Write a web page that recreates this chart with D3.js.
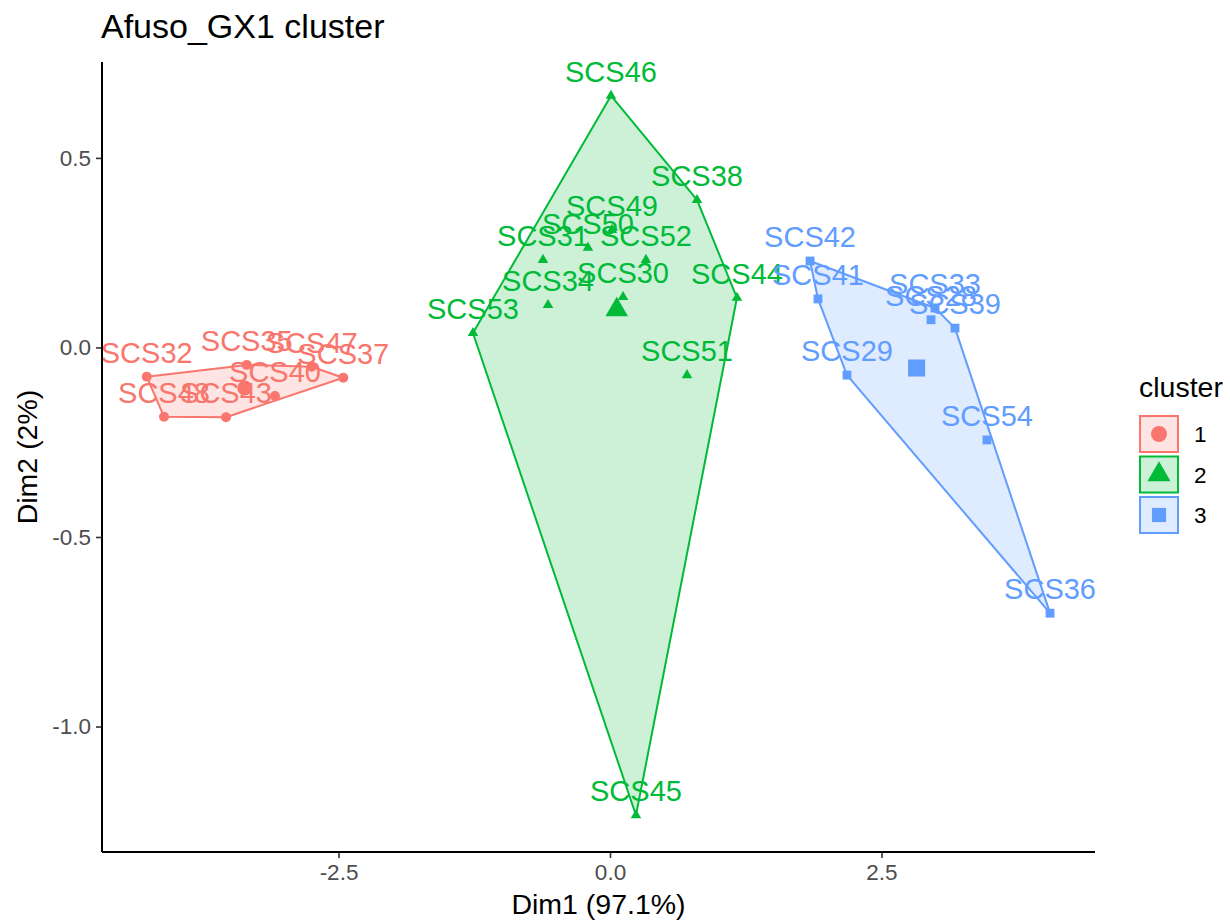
<!DOCTYPE html>
<html>
<head>
<meta charset="utf-8">
<script src="https://cdn.jsdelivr.net/npm/d3@7"></script>
<style>
  html, body { margin: 0; padding: 0; background: #ffffff; }
  svg text { font-family: "Liberation Sans", Arial, Helvetica, sans-serif; }
</style>
</head>
<body>
<svg id="chart" width="1230" height="924"></svg>
<script>
// ---- data ----
const clusterIds = ["1", "2", "3"];
const cluster1Names = ["SCS32", "SCS48", "SCS43", "SCS37", "SCS40", "SCS35", "SCS47"];
const cluster1Dim1 = [-4.266, -4.107, -3.536, -2.456, -3.085, -3.345, -2.747];
const cluster1Dim2 = [-0.077, -0.183, -0.184, -0.080, -0.128, -0.046, -0.051];

const cluster2Names = ["SCS46", "SCS38", "SCS49", "SCS50", "SCS31", "SCS52", "SCS34", "SCS30", "SCS53", "SCS44", "SCS51", "SCS45"];
const cluster2Dim1 = [0.009, 0.801, 0.018, -0.203, -0.617, 0.331, -0.571, 0.120, -1.262, 1.169, 0.709, 0.239];
const cluster2Dim2 = [0.664, 0.389, 0.310, 0.263, 0.231, 0.231, 0.112, 0.133, 0.038, 0.131, -0.073, -1.234];

const cluster3Names = ["SCS42", "SCS41", "SCS29", "SCS33", "SCS28", "SCS39", "SCS54", "SCS36"];
const cluster3Dim1 = [1.842, 1.915, 2.182, 2.993, 2.956, 3.177, 3.471, 4.052];
const cluster3Dim2 = [0.228, 0.128, -0.073, 0.104, 0.073, 0.051, -0.244, -0.701];

const xTicks = [-2.5, 0.0, 2.5];
const yTicks = [0.5, 0.0, -0.5, -1.0];
const xDomain = [-4.678, 4.466];
const yDomain = [-1.331, 0.753];
const titleText = "Afuso_GX1 cluster";
const xTitle = "Dim1 (97.1%)";
const yTitle = "Dim2 (2%)";
const legendTitle = "cluster";

// ---- styling ----
const colors = { "1": "#F8766D", "2": "#00BA38", "3": "#619CFF" };
const shapes = { "1": d3.symbolCircle, "2": d3.symbolTriangle, "3": d3.symbolSquare };
const smallSize = { "1": 78, "2": 48, "3": 78 };
const bigSize = { "1": 180, "2": 220, "3": 290 };

const clusters = [
  { id: "1", names: cluster1Names, x: cluster1Dim1, y: cluster1Dim2 },
  { id: "2", names: cluster2Names, x: cluster2Dim1, y: cluster2Dim2 },
  { id: "3", names: cluster3Names, x: cluster3Dim1, y: cluster3Dim2 }
];

const svg = d3.select("#chart");
const panel = { left: 102, right: 1095, top: 62, bottom: 852 };

const x = d3.scaleLinear().domain(xDomain).range([panel.left, panel.right]);
const y = d3.scaleLinear().domain(yDomain).range([panel.bottom, panel.top]);

// title
svg.append("text").attr("x", 101).attr("y", 38)
  .attr("font-size", 34).attr("fill", "#000").text(titleText);

// hulls
const gHull = svg.append("g");
const gPts = svg.append("g");
const gLbl = svg.append("g");

clusters.forEach(c => {
  const pts = c.names.map((n, i) => [x(c.x[i]), y(c.y[i])]);
  const hull = d3.polygonHull(pts);
  gHull.append("path")
    .attr("d", "M" + hull.map(p => p.join(",")).join("L") + "Z")
    .attr("fill", colors[c.id]).attr("fill-opacity", 0.2)
    .attr("stroke", colors[c.id]).attr("stroke-width", 2)
    .attr("stroke-linejoin", "round");
});

clusters.forEach(c => {
  const sym = d3.symbol().type(shapes[c.id]).size(smallSize[c.id]);
  c.names.forEach((n, i) => {
    gPts.append("path").attr("d", sym())
      .attr("transform", `translate(${x(c.x[i])},${y(c.y[i])})`)
      .attr("fill", colors[c.id]);
    gLbl.append("text")
      .attr("x", x(c.x[i])).attr("y", y(c.y[i]) - 14)
      .attr("text-anchor", "middle").attr("font-size", 29)
      .attr("fill", colors[c.id]).text(n);
  });
  // cluster centre
  const cx = d3.mean(c.x), cy = d3.mean(c.y);
  const big = d3.symbol().type(shapes[c.id]).size(bigSize[c.id]);
  gPts.append("path").attr("d", big())
    .attr("transform", `translate(${x(cx)},${y(cy)})`)
    .attr("fill", colors[c.id]);
});

// axes
const xAxis = d3.axisBottom(x).tickValues(xTicks).tickFormat(d3.format(".1f")).tickSize(6).tickPadding(6);
const yAxis = d3.axisLeft(y).tickValues(yTicks).tickFormat(d3.format(".1f")).tickSize(6).tickPadding(5);

const gx = svg.append("g").attr("transform", `translate(0,${panel.bottom})`).call(xAxis);
const gy = svg.append("g").attr("transform", `translate(${panel.left},0)`).call(yAxis);
[gx, gy].forEach(g => {
  g.select(".domain").remove();
  g.selectAll(".tick line").attr("stroke", "#333333").attr("stroke-width", 1.6);
  g.selectAll(".tick text").attr("fill", "#4D4D4D").attr("font-size", 22.5)
    .attr("font-family", "'Liberation Sans', Arial, sans-serif");
});
gx.selectAll(".tick text").text(d => d3.format(".1f")(d).replace("−", "-"));
gy.selectAll(".tick text").text(d => d3.format(".1f")(d).replace("−", "-"));

svg.append("line").attr("x1", panel.left).attr("x2", panel.right)
  .attr("y1", panel.bottom).attr("y2", panel.bottom)
  .attr("stroke", "#000").attr("stroke-width", 2);
svg.append("line").attr("x1", panel.left).attr("x2", panel.left)
  .attr("y1", panel.top).attr("y2", panel.bottom)
  .attr("stroke", "#000").attr("stroke-width", 2);

// axis titles
svg.append("text").attr("x", (panel.left + panel.right) / 2).attr("y", 914)
  .attr("text-anchor", "middle").attr("font-size", 28.5).attr("fill", "#000").text(xTitle);
svg.append("text").attr("transform", `translate(37,${(panel.top + panel.bottom) / 2}) rotate(-90)`)
  .attr("text-anchor", "middle").attr("font-size", 28.5).attr("fill", "#000").text(yTitle);

// legend
const lg = svg.append("g");
lg.append("text").attr("x", 1139).attr("y", 397).attr("font-size", 28.5).attr("fill", "#000").text(legendTitle);
clusterIds.forEach((id, i) => {
  const top = 416 + i * 40.5;
  lg.append("rect").attr("x", 1140).attr("y", top).attr("width", 38).attr("height", 36)
    .attr("fill", colors[id]).attr("fill-opacity", 0.2)
    .attr("stroke", colors[id]).attr("stroke-width", 2);
  lg.append("path").attr("d", d3.symbol().type(shapes[id]).size(id === "2" ? 230 : 200)())
    .attr("transform", `translate(1159,${top + 18})`).attr("fill", colors[id]);
  lg.append("text").attr("x", 1194).attr("y", top + 26).attr("font-size", 22.5).attr("fill", "#000").text(id);
});
</script>
</body>
</html>
